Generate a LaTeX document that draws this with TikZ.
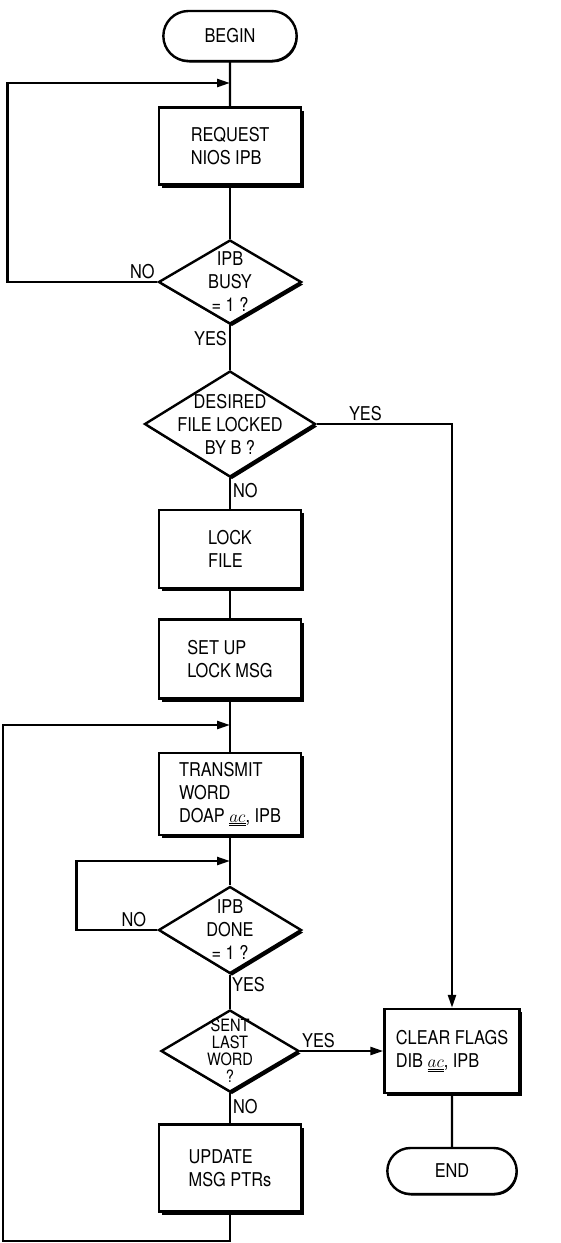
\documentclass[tikz,border=0pt]{standalone}
\usepackage{fontspec}
\setmainfont{TeX Gyre Heros}[FakeStretch=0.86]
\usepackage{tikz}
\usetikzlibrary{positioning, shapes.geometric, shapes.misc, arrows.meta, shadows}

\begin{document}
\begin{tikzpicture}[x=1pt, y=1pt, node distance=110pt, on grid, auto,
        font=\fontsize{19}{23}\selectfont, line width=2.4pt,
        proc/.style={draw, fill=white, rectangle, minimum width=142pt, minimum height=80pt, align=left,
            drop shadow={shadow xshift=2.5pt, shadow yshift=-3pt, opacity=1, fill=black}},
        decision/.style={draw, fill=white, diamond, inner sep=0pt, minimum width=143pt, minimum height=86pt,
            drop shadow={shadow xshift=2pt, shadow yshift=-2.5pt, opacity=1, fill=black}},
        term/.style={draw, fill=white, rounded rectangle, minimum width=140pt, minimum height=50pt,
            drop shadow={shadow xshift=1pt, shadow yshift=-1.5pt, opacity=1, fill=black}},
        flow/.style={-{Triangle[length=13pt, width=8pt]}},
        lbl/.style={inner sep=2pt}]

        \useasboundingbox (0,0) rectangle (561,-1243);

        \node[term] (begin) at (230,-36) {BEGIN};
        \node[proc, minimum height=77pt] (req) [below=110pt of begin] {REQUEST\\NIOS IPB};
        \node[decision, minimum height=84pt, label={[align=center]center:IPB\\BUSY\\= 1 ?}] (busy) [below=136pt of req] {};
        \node[decision, minimum width=171pt, minimum height=106pt,
            label={[align=center]center:DESIRED\\FILE LOCKED\\BY B ?}] (desired) [below=142pt of busy] {};
        \node[proc, minimum height=78pt] (lockfile) [below=125pt of desired] {LOCK\\FILE};
        \node[proc, minimum height=79pt] (setup) [below=110pt of lockfile] {SET UP\\LOCK MSG};
        \node[proc, minimum height=82pt] (transmit) [below=135pt of setup] {TRANSMIT\\WORD\\DOAP $\underline{\underline{ac}}$, IPB};
        \node[decision, minimum height=87pt, label={[align=center]center:IPB\\DONE\\= 1 ?}] (done) [below=136pt of transmit] {};
        \node[decision, minimum width=138pt, minimum height=82pt,
            label={[align=center, font=\fontsize{17}{17}\selectfont]center:SENT\\LAST\\WORD\\?}] (sent) [below=121pt of done] {};
        \node[proc, minimum height=87pt] (update) [below=117pt of sent] {UPDATE\\MSG PTRs};
        \node[proc, minimum width=135pt, minimum height=84pt] (clear) [right=222pt of sent] {CLEAR FLAGS\\DIB $\underline{\underline{ac}}$, IPB};
        \node[term, minimum width=136pt, minimum height=46pt] (end) [below=120pt of clear] {END};

        % junctions where the loops come back in
        \coordinate[below=47pt of begin] (j1);
        \coordinate[above=69pt of transmit] (j2);
        \coordinate[above=69pt of done] (j3);

        \path[draw]
        (begin) edge (req)
        (req) edge (busy)
        (busy) edge node[pos=0.3, left, lbl] {YES} (desired)
        (desired) edge node[pos=0.4, right, lbl] {NO} (lockfile)
        (lockfile) edge (setup)
        (setup) edge (transmit)
        (transmit) edge (done)
        (done) edge node[pos=0.3, right, inner sep=1pt] {YES} (sent)
        (sent) edge node[pos=0.45, right, lbl] {NO} (update)
        (clear) edge (end);

        \draw[flow] (busy.west) -- node[pos=0.1, above, lbl] {NO} ++(-150pt,0) |- (j1);
        \draw[flow] (done.west) -- node[pos=0.29, above, lbl] {NO} ++(-81pt,0) |- (j3);
        \draw[flow] (update.south) |- ++(-227pt,-28pt) |- (j2);
        \draw[flow] (desired.east) -| node[pos=0.18, above, lbl] {YES} (clear.north);
        \draw[flow] (sent.east) -- node[pos=0.22, above, lbl] {YES} (clear.west);

    \end{tikzpicture}
\end{document}
